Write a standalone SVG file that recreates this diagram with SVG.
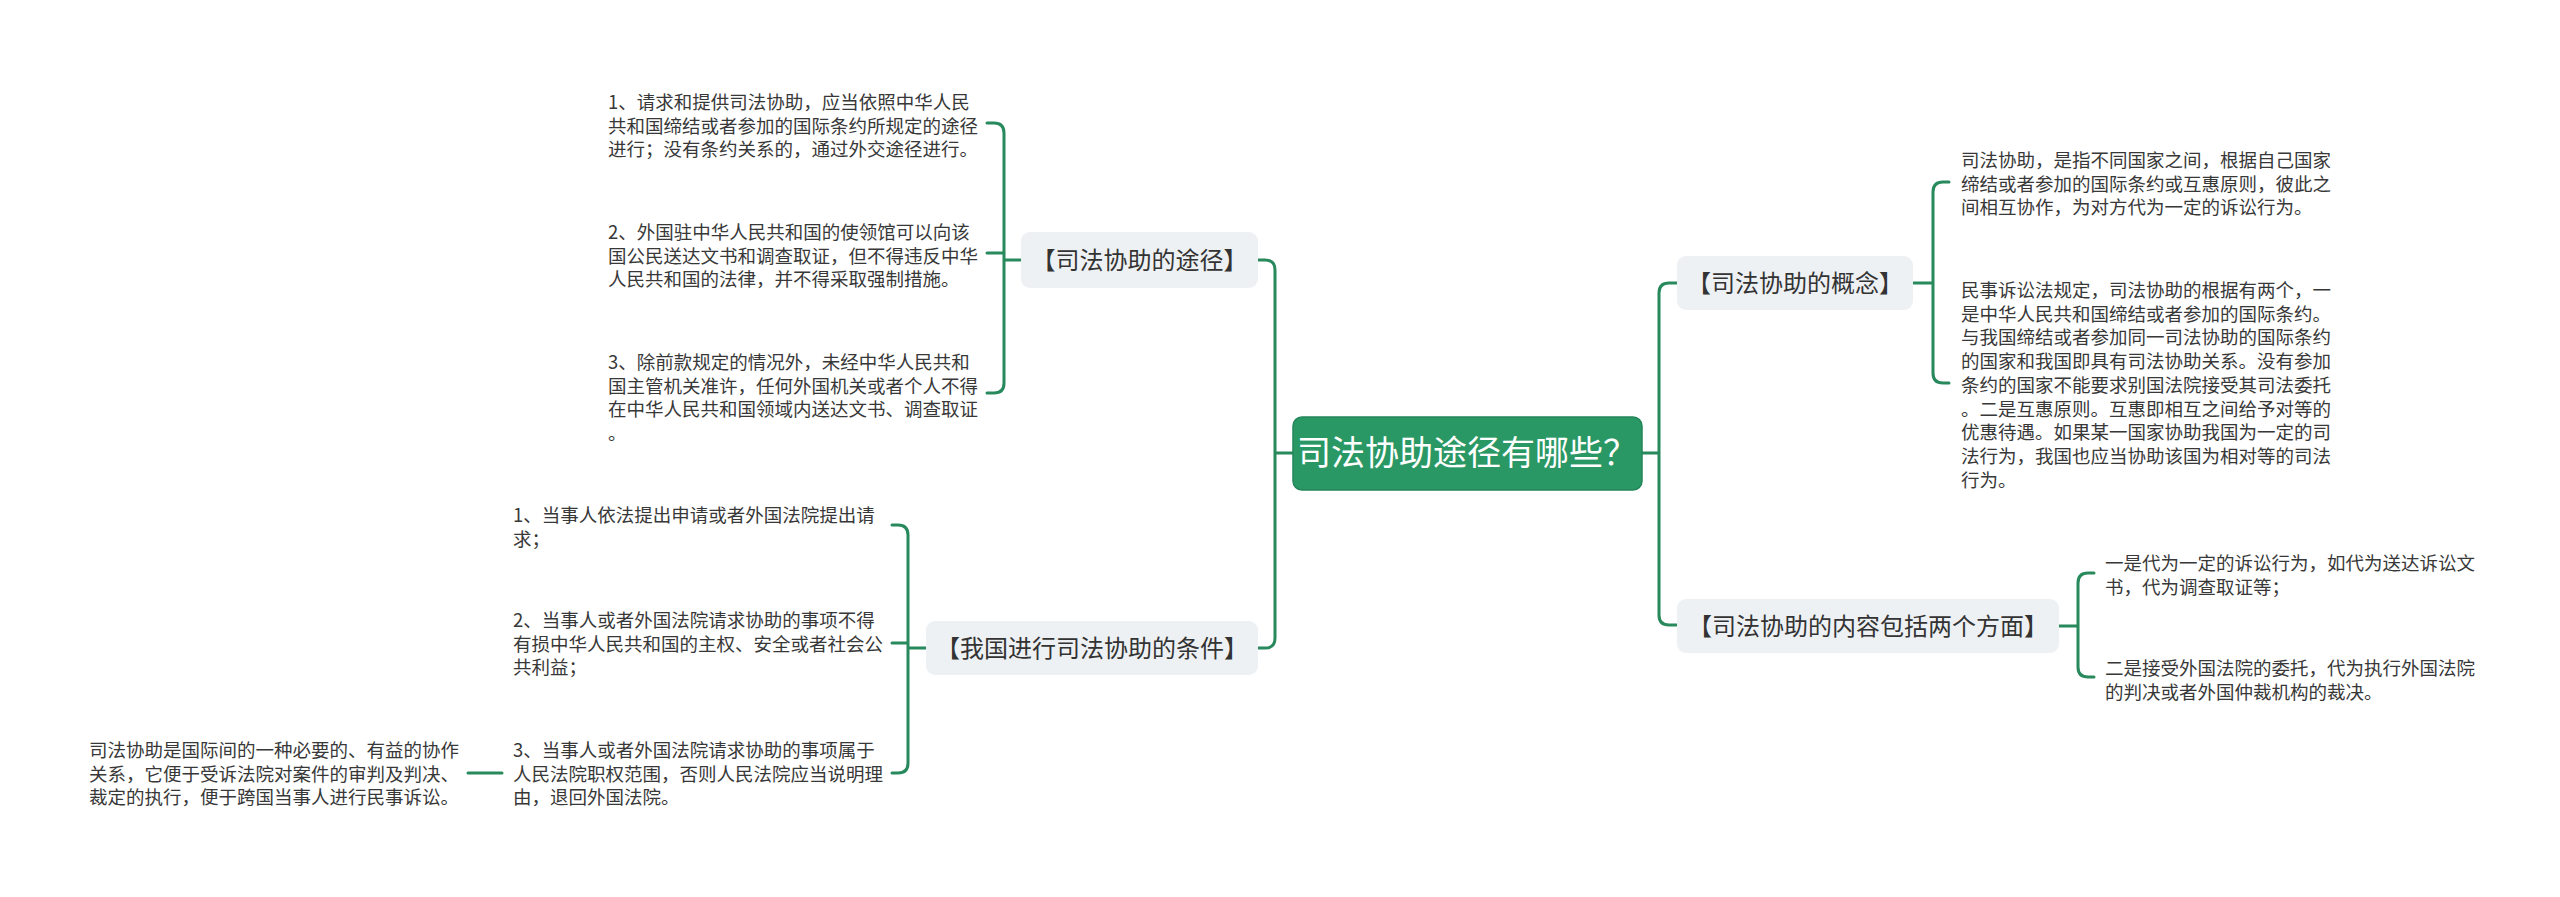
<svg xmlns="http://www.w3.org/2000/svg" width="2560" height="897" viewBox="0 0 2560 897">
<style>
.t{font-family:"Noto Sans CJK SC","Noto Sans",sans-serif;font-size:18.5px;fill:#383838}
.nl{font-family:"Noto Sans CJK SC","Noto Sans",sans-serif;font-size:24px;fill:#333;text-anchor:middle}
.nb{fill:#eef1f4}
.c{fill:none;stroke:#27895c;stroke-width:3;stroke-linecap:round;stroke-linejoin:round}
</style>
<rect width="2560" height="897" fill="#fff"/>
<g id="connectors">
<path class="c" d="M1293,453 H1275 M1258,260 H1265 Q1275,260 1275,270 V638 Q1275,648 1265,648 H1258"/>
<path class="c" d="M1642,453 H1659 M1677,283 H1669 Q1659,283 1659,293 V615 Q1659,625 1669,625 H1677"/>
<path class="c" d="M1021,260 H1004 M987,123 H994 Q1004,123 1004,133 V383 Q1004,393 994,393 H987 M987,253 H1004"/>
<path class="c" d="M926,648 H908 M892,525 H898 Q908,525 908,535 V763 Q908,773 898,773 H892 M892,643 H908"/>
<path class="c" d="M502,773 H468"/>
<path class="c" d="M1913,283 H1933 M1949,182 H1943 Q1933,182 1933,192 V373 Q1933,383 1943,383 H1949"/>
<path class="c" d="M2059,626 H2078 M2094,573 H2088 Q2078,573 2078,583 V667 Q2078,677 2088,677 H2094"/>
</g>
<g id="root">
<rect x="1293" y="417" width="349" height="73" rx="9" fill="#2a9865" stroke="#23855a" stroke-width="1.5"/>
<text x="1467" y="465" font-family="Noto Sans CJK SC,Noto Sans,sans-serif" font-size="34" fill="#fff" text-anchor="middle">司法协助途径有哪些？</text>
</g>
<g id="n-tujing">
<rect class="nb" x="1021" y="232" width="237" height="56" rx="9"/>
<text class="nl" x="1139.5" y="269">【司法协助的途径】</text>
</g>
<g id="n-tiaojian">
<rect class="nb" x="926" y="621" width="332" height="54" rx="9"/>
<text class="nl" x="1092" y="657">【我国进行司法协助的条件】</text>
</g>
<g id="n-gainian">
<rect class="nb" x="1677" y="256" width="236" height="54" rx="9"/>
<text class="nl" x="1795" y="292">【司法协助的概念】</text>
</g>
<g id="n-neirong">
<rect class="nb" x="1677" y="599" width="382" height="54" rx="9"/>
<text class="nl" x="1868" y="635">【司法协助的内容包括两个方面】</text>
</g>
<g id="tj-1">
<text class="t"><tspan x="608" y="109">1、请求和提供司法协助，应当依照中华人民</tspan><tspan x="608" y="132.6">共和国缔结或者参加的国际条约所规定的途径</tspan><tspan x="608" y="156.2">进行；没有条约关系的，通过外交途径进行。</tspan></text>
</g>
<g id="tj-2">
<text class="t"><tspan x="608" y="239">2、外国驻中华人民共和国的使领馆可以向该</tspan><tspan x="608" y="262.6">国公民送达文书和调查取证，但不得违反中华</tspan><tspan x="608" y="286.2">人民共和国的法律，并不得采取强制措施。</tspan></text>
</g>
<g id="tj-3">
<text class="t"><tspan x="608" y="369">3、除前款规定的情况外，未经中华人民共和</tspan><tspan x="608" y="392.6">国主管机关准许，任何外国机关或者个人不得</tspan><tspan x="608" y="416.2">在中华人民共和国领域内送达文书、调查取证</tspan><tspan x="608" y="439.8">。</tspan></text>
</g>
<g id="tc-1">
<text class="t"><tspan x="513" y="522">1、当事人依法提出申请或者外国法院提出请</tspan><tspan x="513" y="545.6">求；</tspan></text>
</g>
<g id="tc-2">
<text class="t"><tspan x="513" y="627">2、当事人或者外国法院请求协助的事项不得</tspan><tspan x="513" y="650.6">有损中华人民共和国的主权、安全或者社会公</tspan><tspan x="513" y="674.2">共利益；</tspan></text>
</g>
<g id="tc-3">
<text class="t"><tspan x="513" y="757">3、当事人或者外国法院请求协助的事项属于</tspan><tspan x="513" y="780.6">人民法院职权范围，否则人民法院应当说明理</tspan><tspan x="513" y="804.2">由，退回外国法院。</tspan></text>
</g>
<g id="tc-3-1">
<text class="t"><tspan x="89" y="757">司法协助是国际间的一种必要的、有益的协作</tspan><tspan x="89" y="780.6">关系，它便于受诉法院对案件的审判及判决、</tspan><tspan x="89" y="804.2">裁定的执行，便于跨国当事人进行民事诉讼。</tspan></text>
</g>
<g id="gn-1">
<text class="t"><tspan x="1961" y="167">司法协助，是指不同国家之间，根据自己国家</tspan><tspan x="1961" y="190.6">缔结或者参加的国际条约或互惠原则，彼此之</tspan><tspan x="1961" y="214.2">间相互协作，为对方代为一定的诉讼行为。</tspan></text>
</g>
<g id="gn-2">
<text class="t"><tspan x="1961" y="297">民事诉讼法规定，司法协助的根据有两个，一</tspan><tspan x="1961" y="320.7">是中华人民共和国缔结或者参加的国际条约。</tspan><tspan x="1961" y="344.4">与我国缔结或者参加同一司法协助的国际条约</tspan><tspan x="1961" y="368.1">的国家和我国即具有司法协助关系。没有参加</tspan><tspan x="1961" y="391.8">条约的国家不能要求别国法院接受其司法委托</tspan><tspan x="1961" y="415.5">。二是互惠原则。互惠即相互之间给予对等的</tspan><tspan x="1961" y="439.2">优惠待遇。如果某一国家协助我国为一定的司</tspan><tspan x="1961" y="462.9">法行为，我国也应当协助该国为相对等的司法</tspan><tspan x="1961" y="486.6">行为。</tspan></text>
</g>
<g id="nr-1">
<text class="t"><tspan x="2105" y="570">一是代为一定的诉讼行为，如代为送达诉讼文</tspan><tspan x="2105" y="593.6">书，代为调查取证等；</tspan></text>
</g>
<g id="nr-2">
<text class="t"><tspan x="2105" y="675">二是接受外国法院的委托，代为执行外国法院</tspan><tspan x="2105" y="698.6">的判决或者外国仲裁机构的裁决。</tspan></text>
</g>
</svg>
